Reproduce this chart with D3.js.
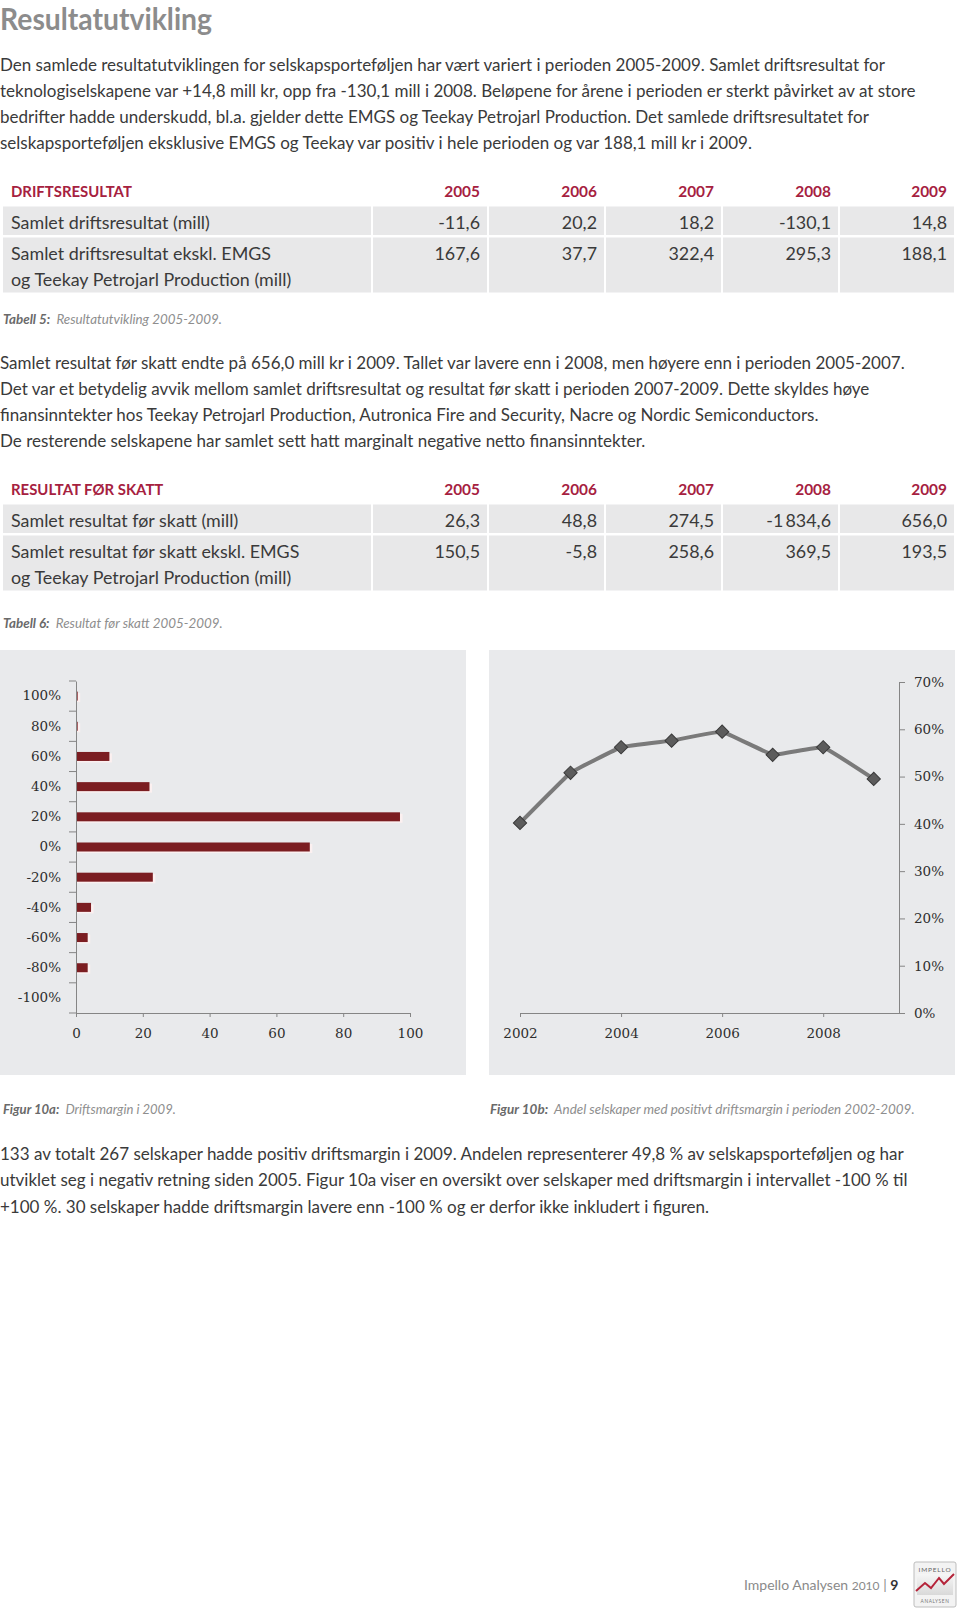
<!DOCTYPE html>
<html><head><meta charset="utf-8">
<script src="https://cdn.jsdelivr.net/npm/d3@7"></script>
<style>body{margin:0;background:#fff} svg{display:block}</style>
</head><body>
<svg id="page" width="960" height="1610"></svg>
<script>
// ---------- data ----------
const tableYears = ["2005", "2006", "2007", "2008", "2009"];
const driftLabels = [["Samlet driftsresultat (mill)"], ["Samlet driftsresultat ekskl. EMGS", "og Teekay Petrojarl Production (mill)"]];
const driftTotal = ["-11,6", "20,2", "18,2", "-130,1", "14,8"];
const driftExcl = ["167,6", "37,7", "322,4", "295,3", "188,1"];
const skattLabels = [["Samlet resultat før skatt (mill)"], ["Samlet resultat før skatt ekskl. EMGS", "og Teekay Petrojarl Production (mill)"]];
const skattTotal = ["26,3", "48,8", "274,5", "-1\u2009834,6", "656,0"];
const skattExcl = ["150,5", "-5,8", "258,6", "369,5", "193,5"];

const marginBins = ["100%", "80%", "60%", "40%", "20%", "0%", "-20%", "-40%", "-60%", "-80%", "-100%"];
const marginCounts = [0.5, 0.5, 10, 22, 97, 70, 23, 4.5, 3.5, 3.5, 0];
const countTicks = [0, 20, 40, 60, 80, 100];

const shareYears = [2002, 2003, 2004, 2005, 2006, 2007, 2008, 2009];
const shareValues = [40.2, 50.8, 56.2, 57.6, 59.5, 54.6, 56.2, 49.5];
const shareYearTicks = [2002, 2004, 2006, 2008];
const sharePctTicks = [0, 10, 20, 30, 40, 50, 60, 70];

const titleText = "Resultatutvikling";
const para1 = [
  "Den samlede resultatutviklingen for selskapsporteføljen har vært variert i perioden 2005-2009. Samlet driftsresultat for",
  "teknologiselskapene var +14,8 mill kr, opp fra -130,1 mill i 2008. Beløpene for årene i perioden er sterkt påvirket av at store",
  "bedrifter hadde underskudd, bl.a. gjelder dette EMGS og Teekay Petrojarl Production. Det samlede driftsresultatet for",
  "selskapsporteføljen eksklusive EMGS og Teekay var positiv i hele perioden og var 188,1 mill kr i 2009."
];
const para2 = [
  "Samlet resultat før skatt endte på 656,0 mill kr i 2009. Tallet var lavere enn i 2008, men høyere enn i perioden 2005-2007.",
  "Det var et betydelig avvik mellom samlet driftsresultat og resultat før skatt i perioden 2007-2009. Dette skyldes høye",
  "finansinntekter hos Teekay Petrojarl Production, Autronica Fire and Security, Nacre og Nordic Semiconductors.",
  "De resterende selskapene har samlet sett hatt marginalt negative netto finansinntekter."
];
const para3 = [
  "133 av totalt 267 selskaper hadde positiv driftsmargin i 2009. Andelen representerer 49,8 % av selskapsporteføljen og har",
  "utviklet seg i negativ retning siden 2005. Figur 10a viser en oversikt over selskaper med driftsmargin i intervallet -100 % til",
  "+100 %. 30 selskaper hadde driftsmargin lavere enn -100 % og er derfor ikke inkludert i figuren."
];

// ---------- helpers ----------
const svg = d3.select("#page");
const SANS = "Lato, 'Open Sans', sans-serif";
const SERIF = "'DejaVu Serif', serif";
const RED = "#a6213f";
const TXT = "#3a3a3a";

function fitSize(sel, target) {
  const w = sel.node().getComputedTextLength();
  const fs = parseFloat(sel.attr("font-size"));
  const n = fs * target / w;
  sel.attr("font-size", n);
  return n;
}

// ---------- title ----------
svg.append("text").attr("x", 0).attr("y", 29.5)
  .attr("font-family", SANS).attr("font-weight", 700).attr("font-size", 30)
  .attr("fill", "#8c8c8c")
  .attr("textLength", 212).attr("lengthAdjust", "spacingAndGlyphs")
  .text(titleText);

// ---------- paragraphs ----------
const probe = svg.append("text").attr("font-family", SANS).attr("font-size", 16).text(para1[0]);
const bodySize = fitSize(probe, 885);
probe.remove();

function paragraph(lines, baselines) {
  svg.append("g").selectAll("text").data(lines).join("text")
    .attr("x", 0).attr("y", (d, i) => baselines[i])
    .attr("font-family", SANS).attr("font-size", bodySize).attr("fill", TXT)
    .text(d => d);
}
paragraph(para1, [71, 97, 123, 149]);
paragraph(para2, [368.5, 394.5, 420.5, 446.5]);
paragraph(para3, [1159.5, 1186, 1212.5]);

// ---------- tables ----------
const colEdges = [3, 372, 488, 605, 722, 839, 955];
const p2 = svg.append("text").attr("font-family", SANS).attr("font-size", 16).text(driftLabels[0][0]);
const cellSize = fitSize(p2, 199);
p2.remove();
const ph = svg.append("text").attr("font-family", SANS).attr("font-weight", 700).attr("font-size", 14).text("DRIFTSRESULTAT");
const headSize = fitSize(ph, 121);
ph.remove();

function drawTable(hy, heading, labels, rowA, rowB, capBold, capText, capY) {
  const g = svg.append("g");
  g.append("text").attr("x", 11).attr("y", hy + 5)
    .attr("font-family", SANS).attr("font-weight", 700).attr("font-size", headSize)
    .attr("fill", RED).text(heading);
  g.selectAll(".yr").data(tableYears).join("text")
    .attr("x", (d, i) => colEdges[i + 2] - 8).attr("y", hy + 5)
    .attr("text-anchor", "end")
    .attr("font-family", SANS).attr("font-weight", 700).attr("font-size", headSize + 0.5)
    .attr("fill", RED).text(d => d);
  const rows = [
    {top: hy + 14.5, h: 28.5, label: labels[0], vals: rowA},
    {top: hy + 45.5, h: 55, label: labels[1], vals: rowB}
  ];
  rows.forEach(r => {
    for (let c = 0; c < 6; c++) {
      const x0 = colEdges[c] + (c > 0 ? 1 : 0);
      const x1 = colEdges[c + 1] - 1;
      g.append("rect").attr("x", x0).attr("y", r.top).attr("width", x1 - x0).attr("height", r.h)
        .attr("fill", "#e8e8e9");
    }
    r.label.forEach((t, i) => {
      g.append("text").attr("x", 11).attr("y", r.top + 22 + i * 26)
        .attr("font-family", SANS).attr("font-size", cellSize).attr("fill", TXT).text(t);
    });
    r.vals.forEach((v, i) => {
      g.append("text").attr("x", colEdges[i + 2] - 8).attr("y", r.top + 22)
        .attr("text-anchor", "end")
        .attr("font-family", SANS).attr("font-size", cellSize).attr("fill", TXT).text(v);
    });
  });
  const cap = g.append("text").attr("x", 3).attr("y", capY)
    .attr("font-family", SANS).attr("font-style", "italic").attr("font-size", 13);
  cap.append("tspan").attr("font-weight", 700).attr("fill", "#6a6a6a").text(capBold);
  cap.append("tspan").attr("fill", "#8e8e8e").attr("font-weight", 400).text("\u00a0 " + capText);
  return cap;
}
const cap1 = drawTable(192, "DRIFTSRESULTAT", driftLabels, driftTotal, driftExcl, "Tabell 5:", "Resultatutvikling 2005-2009.", 324);
const capSize = fitSize(cap1, 219);
const cap2 = drawTable(490, "RESULTAT FØR SKATT", skattLabels, skattTotal, skattExcl, "Tabell 6:", "Resultat før skatt 2005-2009.", 627.5);
cap2.attr("font-size", capSize);

// ---------- chart panels ----------
svg.append("rect").attr("x", 0).attr("y", 650).attr("width", 466).attr("height", 425).attr("fill", "#e9eaec");
svg.append("rect").attr("x", 489).attr("y", 650).attr("width", 466).attr("height", 425).attr("fill", "#e9eaec");

const AX = "#858585";
// ---- Figure 10a : horizontal bars ----
const xA = d3.scaleLinear().domain([0, 100]).range([76, 410]);
const yA = d3.scaleBand().domain(marginBins).range([681, 1013]).padding(0);
const gA = svg.append("g");
const barH = 9;
const bars = gA.selectAll(".bar").data(marginBins.map((b, i) => ({b, v: marginCounts[i]}))).join("g");
bars.append("rect")
  .attr("x", xA(0) + 1).attr("y", d => yA(d.b) + yA.bandwidth() / 2 - barH / 2 + 1.5)
  .attr("width", d => d.v > 0 ? xA(d.v) - xA(0) + 1.5 : 0).attr("height", barH)
  .attr("fill", "#fcf0f0");
bars.append("rect")
  .attr("x", xA(0)).attr("y", d => yA(d.b) + yA.bandwidth() / 2 - barH / 2)
  .attr("width", d => xA(d.v) - xA(0)).attr("height", barH)
  .attr("fill", "#7b1d21");

const yAxisA = gA.append("g").attr("transform", `translate(${xA(0)},0)`)
  .call(d3.axisLeft(yA).tickSize(0).tickPadding(15));
const bounds = marginBins.map(b => yA(b)).concat([yA.range()[1]]);
gA.selectAll(".bt").data(bounds).join("line")
  .attr("x1", xA(0) - 7).attr("x2", xA(0)).attr("y1", d => d).attr("y2", d => d)
  .attr("stroke", AX);
const xAxisA = gA.append("g").attr("transform", `translate(0,${yA.range()[1]})`)
  .call(d3.axisBottom(xA).tickValues(countTicks).tickSize(4).tickSizeOuter(0).tickPadding(11));
[yAxisA, xAxisA].forEach(a => {
  a.select(".domain").attr("stroke", AX);
  a.selectAll(".tick line").attr("stroke", AX);
  a.selectAll("text").attr("font-family", SERIF).attr("font-size", 13.5).attr("fill", "#2e2e2e");
});

// ---- Figure 10b : line ----
const xB = d3.scaleLinear().domain([2002, 2009.5]).range([520, 899]);
const yB = d3.scaleLinear().domain([0, 70]).range([1013, 682]);
const gB = svg.append("g");
const yAxisB = gB.append("g").attr("transform", `translate(${xB.range()[1]},0)`)
  .call(d3.axisRight(yB).tickValues(sharePctTicks).tickSize(6).tickSizeOuter(0).tickPadding(9).tickFormat(d => d + "%"));
const xAxisB = gB.append("g").attr("transform", `translate(0,${yB(0)})`)
  .call(d3.axisBottom(xB).tickValues(shareYearTicks).tickSize(4).tickSizeOuter(0).tickPadding(11).tickFormat(d3.format("d")));
[yAxisB, xAxisB].forEach(a => {
  a.select(".domain").attr("stroke", AX);
  a.selectAll(".tick line").attr("stroke", AX);
  a.selectAll("text").attr("font-family", SERIF).attr("font-size", 13.5).attr("fill", "#2e2e2e");
});
const pts = shareYears.map((y, i) => ({y, v: shareValues[i]}));
gB.append("path").datum(pts)
  .attr("d", d3.line().x(d => xB(d.y)).y(d => yB(d.v)).curve(d3.curveCardinal.tension(0.8)))
  .attr("fill", "none").attr("stroke", "#7a7a7a").attr("stroke-width", 4);
gB.selectAll(".mk").data(pts).join("path")
  .attr("transform", d => `translate(${xB(d.y)},${yB(d.v)}) rotate(45)`)
  .attr("d", d3.symbol().type(d3.symbolSquare).size(88))
  .attr("fill", "#5c5c5c").attr("stroke", "#3a3a3a").attr("stroke-width", 1);

// ---------- figure captions ----------
function figCap(x, bold, rest, target) {
  const t = svg.append("text").attr("x", x).attr("y", 1114)
    .attr("font-family", SANS).attr("font-style", "italic").attr("font-size", 13);
  t.append("tspan").attr("font-weight", 700).attr("fill", "#6a6a6a").text(bold);
  t.append("tspan").attr("fill", "#8e8e8e").text("\u00a0 " + rest);
  fitSize(t, target);
}
figCap(3, "Figur 10a:", "Driftsmargin i 2009.", 173);
figCap(490, "Figur 10b:", "Andel selskaper med positivt driftsmargin i perioden 2002-2009.", 425);

// ---------- footer ----------
const ft = svg.append("text").attr("x", 744).attr("y", 1590)
  .attr("font-family", SANS).attr("font-size", 14).attr("fill", "#8a8a8a");
ft.append("tspan").text("Impello Analysen ");
ft.append("tspan").attr("font-size", 12).text("2010");
ft.append("tspan").attr("fill", "#8a8a8a").text("  |  ");
ft.append("tspan").attr("font-weight", 700).attr("fill", "#333").text("9");

// logo
const lg = svg.append("g").attr("transform", "translate(914,1562)");
const grad = svg.append("defs").append("linearGradient").attr("id", "lgg").attr("x1", 0).attr("y1", 0).attr("x2", 0).attr("y2", 1);
grad.append("stop").attr("offset", "0").attr("stop-color", "#f6f6f6");
grad.append("stop").attr("offset", "1").attr("stop-color", "#d9d9d9");
lg.append("rect").attr("width", 42).attr("height", 45).attr("rx", 2).attr("fill", "#f3f3f3").attr("stroke", "#bdbdbd");
lg.append("rect").attr("x", 3).attr("y", 12).attr("width", 36).attr("height", 21).attr("fill", "url(#lgg)");
lg.append("text").attr("x", 21).attr("y", 9.5).attr("text-anchor", "middle")
  .attr("font-family", SANS).attr("font-size", 6.5).attr("letter-spacing", 0.8).attr("fill", "#666").text("IMPELLO");
lg.append("text").attr("x", 21).attr("y", 41).attr("text-anchor", "middle")
  .attr("font-family", SANS).attr("font-size", 4.8).attr("letter-spacing", 0.6).attr("fill", "#777").text("ANALYSEN");
const zig = [[2, 29], [11, 21], [17, 26], [25, 16], [30, 22], [40, 12]];
lg.append("path").attr("d", d3.line()(zig)).attr("fill", "none").attr("stroke", "#b5243a").attr("stroke-width", 2);
</script>
</body></html>
